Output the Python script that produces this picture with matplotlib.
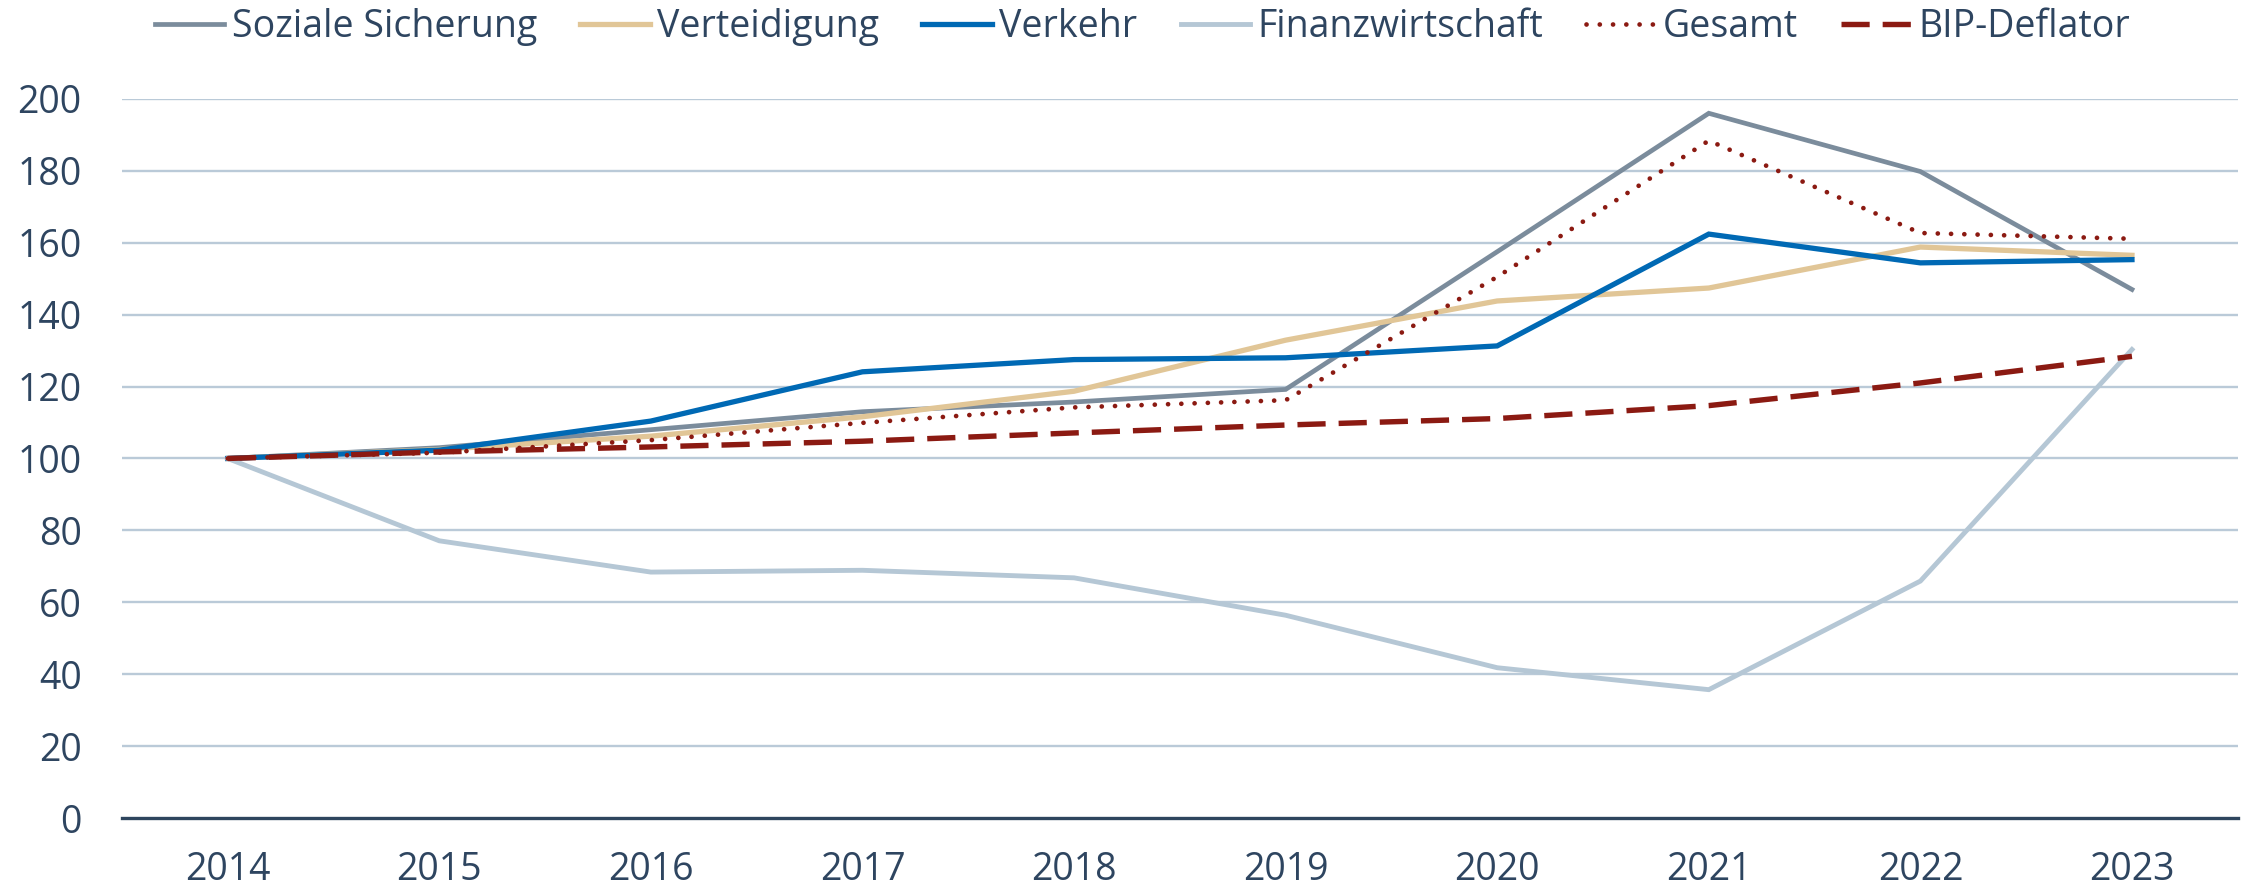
import matplotlib.pyplot as plt
import numpy as np

plt.rcParams['font.family'] = ['Open Sans', 'DejaVu Sans']

years = ['2014', '2015', '2016', '2017', '2018', '2019', '2020', '2021', '2022', '2023']

soziale_sicherung = [100, 103, 108, 113, 115.7, 119.2, 157.5, 196, 179.8, 147]
verteidigung = [100, 102.5, 106.2, 111.6, 118.7, 132.9, 143.8, 147.4, 158.8, 156.5]
verkehr = [100, 102.3, 110.4, 124.1, 127.5, 128, 131.3, 162.4, 154.4, 155.3]
finanzwirtschaft = [100, 77.1, 68.4, 68.9, 66.8, 56.4, 41.8, 35.7, 65.9, 130.3]
gesamt = [100, 101.6, 105.1, 109.9, 114.2, 116.2, 150.5, 188.4, 162.7, 161.1]
bip_deflator = [100, 101.8, 103.2, 104.8, 107.1, 109.3, 111.1, 114.7, 121, 128.4]

yticks = [0, 20, 40, 60, 80, 100, 120, 140, 160, 180, 200]

text_col = '#2E4560'
red = '#8B1A12'

fig = plt.figure(figsize=(22.49, 8.91), dpi=100)
ax = fig.add_axes([0.0542, 0.0819, 0.9408, 0.8071])

x = np.arange(len(years))
ax.plot(x, soziale_sicherung, color='#7B8C9C', lw=3.4, label='Soziale Sicherung', solid_joinstyle='miter')
ax.plot(x, verteidigung, color='#E1C697', lw=3.8, label='Verteidigung', solid_joinstyle='miter')
ax.plot(x, verkehr, color='#0069B4', lw=3.8, label='Verkehr', solid_joinstyle='miter')
ax.plot(x, finanzwirtschaft, color='#B5C7D5', lw=3.5, label='Finanzwirtschaft', solid_joinstyle='miter')
ax.plot(x, gesamt, color=red, lw=3.4, label='Gesamt', linestyle=(0, (0.01, 2.8)),
        dash_capstyle='round')
ax.plot(x, bip_deflator, color=red, lw=3.9, label='BIP-Deflator', linestyle=(0, (5.2, 2.4)),
        dash_capstyle='butt')

ax.set_xlim(-0.5, 9.5)
ax.set_ylim(0, 200)
ax.set_xticks(x)
ax.set_xticklabels(years)
ax.set_yticks(yticks)

for v in yticks[1:]:
    ax.axhline(v, color='#BACAD8', lw=1.7, zorder=0)

for s in ['top', 'right', 'left']:
    ax.spines[s].set_visible(False)
ax.spines['bottom'].set_color('#2E455E')
ax.spines['bottom'].set_linewidth(2.4)

ax.tick_params(axis='both', length=0, labelsize=27, labelcolor=text_col)
ax.tick_params(axis='y', pad=29)
ax.tick_params(axis='x', pad=24)

leg = fig.legend(loc='center', bbox_to_anchor=(0.508, 0.970), ncol=6, frameon=False,
                 fontsize=27, handlelength=1.85, handletextpad=0.2, columnspacing=1.15,
                 borderpad=0, borderaxespad=0)
for t in leg.get_texts():
    t.set_color(text_col)

fig.savefig('out.png', dpi=100)
